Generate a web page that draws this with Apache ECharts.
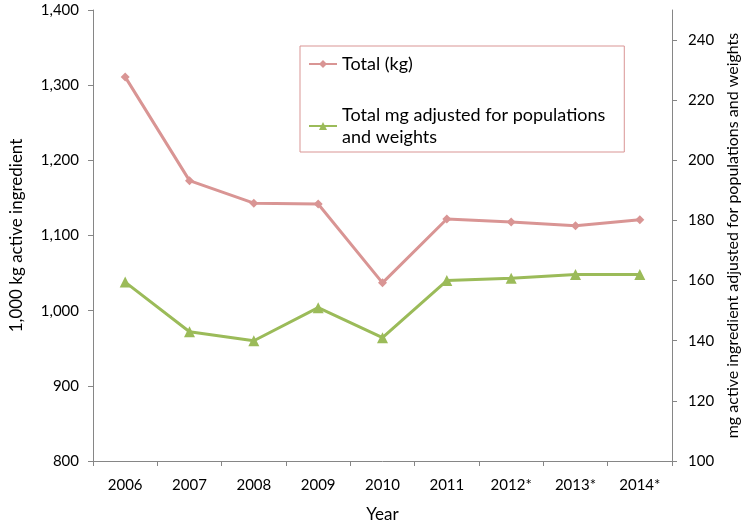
<!DOCTYPE html>
<html>
<head>
<meta charset="utf-8">
<script src="https://cdn.jsdelivr.net/npm/echarts@6/dist/echarts.min.js"></script>
<style>html,body{margin:0;padding:0;background:#fff}#c{width:749px;height:528px}</style>
</head>
<body>
<div id="c"></div>
<script>
const years = ['2006','2007','2008','2009','2010','2011','2012*','2013*','2014*'];
const totalKg = [1311, 1173, 1143, 1142, 1037, 1122, 1118, 1113, 1121];
const totalMgAdjusted = [159.5, 143, 140, 151, 141, 160, 160.8, 162, 162];
const leftTicks = {min: 800, max: 1400, interval: 100};
const rightTicks = {min: 100, max: 250, interval: 20};

const FONT = 'Lato, "Open Sans", sans-serif';
const axisColor = '#868686';
const chart = echarts.init(document.getElementById('c'));
chart.setOption({
  animation: false,
  textStyle: {fontFamily: FONT},
  grid: {left: 87, right: 75, top: 10, bottom: 64},
  legend: {
    orient: 'vertical',
    left: 300, top: 46,
    padding: [7, 19, 4, 8],
    itemGap: 29,
    itemWidth: 28, itemHeight: 10,
    borderColor: '#D99594', borderWidth: 1,
    textStyle: {fontFamily: FONT, fontSize: 18, color: '#000', lineHeight: 22},
    data: [
      {name: 'Total (kg)'},
      {name: 'Total mg adjusted for populations\nand weights'}
    ]
  },
  xAxis: {
    type: 'category',
    data: years,
    boundaryGap: true,
    name: 'Year',
    nameLocation: 'middle',
    nameGap: 45,
    nameTextStyle: {fontFamily: FONT, fontSize: 17, color: '#000'},
    axisLine: {lineStyle: {color: axisColor}},
    axisTick: {show: true, length: 5, lineStyle: {color: axisColor}},
    axisLabel: {fontFamily: FONT, fontSize: 15, color: '#000', margin: 17}
  },
  yAxis: [
    {
      type: 'value',
      min: leftTicks.min, max: leftTicks.max, interval: leftTicks.interval,
      name: '1,000 kg active ingredient',
      nameLocation: 'middle',
      nameGap: 68,
      nameRotate: 90,
      nameTextStyle: {fontFamily: FONT, fontSize: 17, color: '#000'},
      axisLine: {show: true, lineStyle: {color: axisColor}},
      axisTick: {show: true, length: 5, lineStyle: {color: axisColor}},
      splitLine: {show: false},
      axisLabel: {fontFamily: FONT, fontSize: 15, color: '#000', margin: 14,
        formatter: v => v.toLocaleString('en-US')}
    },
    {
      type: 'value',
      position: 'right',
      min: rightTicks.min, max: rightTicks.max, interval: rightTicks.interval,
      name: 'mg active ingredient adjusted for populations and weights',
      nameLocation: 'middle',
      nameGap: 52,
      nameRotate: 90,
      nameTextStyle: {fontFamily: FONT, fontSize: 16, color: '#000'},
      axisLine: {show: true, lineStyle: {color: axisColor}},
      axisTick: {show: true, length: 5, lineStyle: {color: axisColor}},
      splitLine: {show: false},
      axisLabel: {fontFamily: FONT, fontSize: 15, color: '#000', margin: 16,
        showMaxLabel: false,
        formatter: v => (v === rightTicks.max ? '' : String(v))}
    }
  ],
  series: [
    {
      name: 'Total (kg)',
      type: 'line',
      yAxisIndex: 0,
      data: totalKg,
      symbol: 'diamond',
      symbolSize: 9,
      color: '#D99594',
      lineStyle: {width: 3, color: '#D99594'},
      itemStyle: {color: '#D99594'}
    },
    {
      name: 'Total mg adjusted for populations\nand weights',
      type: 'line',
      yAxisIndex: 1,
      data: totalMgAdjusted,
      symbol: 'triangle',
      symbolSize: 11,
      color: '#9BBB59',
      lineStyle: {width: 3, color: '#9BBB59'},
      itemStyle: {color: '#9BBB59'}
    }
  ]
});
</script>
</body>
</html>
